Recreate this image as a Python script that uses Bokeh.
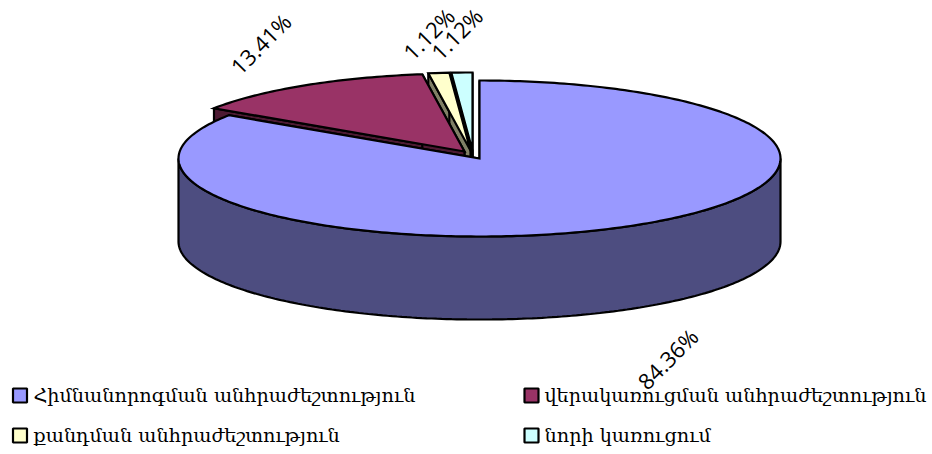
import numpy as np
from bokeh.plotting import figure
from bokeh.models import Range1d
from bokeh.core.properties import value
from bokeh.embed import file_html
from bokeh.resources import INLINE

categories = ["Հիմնանորոգման անհրաժեշտություն", "վերակառուցման անհրաժեշտություն",
              "քանդման անհրաժեշտություն", "նորի կառուցում"]
shares = [84.36, 13.41, 1.12, 1.12]
share_labels = ["84.36%", "13.41%", "1.12%", "1.12%"]
top_colors = ["#9999ff", "#993366", "#ffffcc", "#ccffff"]
side_colors = ["#4d4d80", "#4d1a33", "#808066", "#668080"]

# pie geometry, in page pixels
CX, CY, RX, RY, DEPTH = 479, 158, 301, 78, 83
explode_x = [0, -15, -9, -7]
explode_y = [0, -7, -8, -8]
label_x = [667, 260, 428, 456]
label_y = [358, 43, 33, 33]
legend_x = [19.5, 531, 19.5, 531]
legend_y = [395, 395, 435, 435]
legend_text_x = [33, 544, 33, 544]

p = figure(width=932, height=454, output_backend="svg", toolbar_location=None,
           x_range=Range1d(0, 932), y_range=Range1d(454, 0), min_border=0)
p.axis.visible = False
p.grid.visible = False
p.outline_line_color = None

# cumulative clockwise angles from 12 o'clock
fractions = np.array(shares) / sum(shares) * 2 * np.pi
ends = np.cumsum(fractions)
starts = ends - fractions


def rim(a0, a1, ox, oy, dy=0.0):
    t = np.linspace(a0, a1, max(int((a1 - a0) * 60), 2))
    return CX + ox + RX * np.sin(t), CY + oy + dy - RY * np.cos(t)


# draw back-to-front: exploded small slices first, the large slice last
for i in [3, 2, 1, 0]:
    ox, oy = explode_x[i], explode_y[i]
    ax, ay = CX + ox, CY + oy
    a0, a1 = starts[i], ends[i]
    lw = 2.2
    # cut-face walls
    for a in (a0, a1):
        ex, ey = rim(a, a, ox, oy)
        ex, ey = ex[0], ey[0]
        p.patch([ax, ex, ex, ax], [ay, ey, ey + DEPTH, ay + DEPTH],
                fill_color=side_colors[i], line_color="black", line_width=lw)
    # outer wall: the part of the rim facing the viewer
    lo, hi = max(a0, np.pi / 2), min(a1, 3 * np.pi / 2)
    if hi > lo:
        tx, ty = rim(lo, hi, ox, oy)
        bx, by = rim(lo, hi, ox, oy, DEPTH)
        p.patch(np.r_[tx, bx[::-1]], np.r_[ty, by[::-1]],
                fill_color=side_colors[i], line_color="black", line_width=lw)
    # top face
    tx, ty = rim(a0, a1, ox, oy)
    p.patch(np.r_[ax, tx], np.r_[ay, ty], fill_color=top_colors[i],
            line_color="black", line_width=lw, line_join="miter")

# percentage labels
p.text(label_x, label_y, text=share_labels, angle=np.deg2rad(45),
       text_align="center", text_baseline="middle", text_color="black",
       text_font=value("Open Sans"), text_font_size="22px")

# legend
p.rect(legend_x, legend_y, width=14, height=14, fill_color=top_colors,
       line_color="black", line_width=2.2)
p.text(legend_text_x, legend_y, text=categories, text_align="left",
       text_baseline="middle", text_color="black",
       text_font=value("DejaVu Serif"), text_font_size="19.2px")

open("out.html", "w").write(file_html(p, INLINE))
